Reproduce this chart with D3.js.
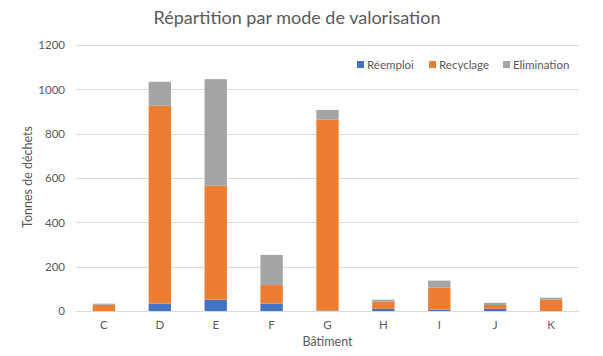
<!DOCTYPE html>
<html><head><meta charset="utf-8">
<script src="https://cdn.jsdelivr.net/npm/d3@7"></script>
<style>body{margin:0;background:#fff}svg{display:block}text{font-family:Lato,"Open Sans",sans-serif;fill:#595959}</style>
</head><body><svg id="c" width="603" height="356"></svg>
<script>
const categories = ["C","D","E","F","G","H","I","J","K"];
const reemploi   = [0, 33, 51, 33, 2, 10, 6, 10, 0];
const recyclage  = [28, 893, 514, 84, 861, 32, 99, 17, 51];
const elimination= [5, 108, 481, 136, 44, 9, 32, 10, 9];
const seriesNames = ["Réemploi","Recyclage","Elimination"];
const colors = ["#4472C4","#ED7D31","#A5A5A5"];
const yTicks = [0,200,400,600,800,1000,1200];

const svg = d3.select("#c");
const m = {l:76, r:24, t:45, b:45};
const W = 603, H = 356;
const x = d3.scaleBand().domain(categories).range([m.l, W - m.r]).paddingInner(0.6).paddingOuter(0.3);
const y = d3.scaleLinear().domain([0,1200]).range([311,45]);

const rows = categories.map((c,i)=>({cat:c, "Réemploi":reemploi[i], "Recyclage":recyclage[i], "Elimination":elimination[i]}));
const stacked = d3.stack().keys(seriesNames)(rows);

// gridlines
svg.append("g").selectAll("line").data(yTicks).join("line")
  .attr("x1", m.l).attr("x2", W - m.r)
  .attr("y1", d=>Math.round(y(d))+0.5).attr("y2", d=>Math.round(y(d))+0.5)
  .attr("stroke","#d9d9d9").attr("stroke-width",1);

// y tick labels
const ya = svg.append("g").attr("transform",`translate(${m.l},0)`).call(d3.axisLeft(y).tickValues(yTicks).tickSize(0).tickPadding(11).tickFormat(d3.format("d")));
ya.select(".domain").remove();
ya.selectAll("text").style("font-size","11.5px").style("fill","#595959").style("font-family","Lato");

// bars
svg.append("g").selectAll("g").data(stacked).join("g").attr("fill",(d,i)=>colors[i])
  .selectAll("rect").data(d=>d).join("rect")
  .attr("x", d=>x(d.data.cat)).attr("width", x.bandwidth())
  .attr("y", d=>y(d[1])).attr("height", d=>y(d[0]) - y(d[1]));

// x axis labels
const xa = svg.append("g").attr("transform","translate(0,311)").call(d3.axisBottom(x).tickSize(0).tickPadding(10));
xa.select(".domain").remove();
xa.selectAll("text").style("font-size","11.5px").style("fill","#595959").style("font-family","Lato");

// titles
svg.append("text").attr("x", 297).attr("y", 24).attr("text-anchor","middle")
  .style("font-size","18px").text("Répartition par mode de valorisation");
svg.append("text").attr("x", (m.l + W - m.r)/2).attr("y", 346).attr("text-anchor","middle")
  .style("font-size","12.5px").text("Bâtiment");
svg.append("text").attr("transform","translate(32,177) rotate(-90)").attr("text-anchor","middle")
  .style("font-size","12.5px").text("Tonnes de déchets");

// legend
const legX = [357, 429, 503];
const lg = svg.append("g").selectAll("g").data(seriesNames).join("g")
  .attr("transform",(d,i)=>`translate(${legX[i]},61)`);
lg.append("rect").attr("width",7).attr("height",7).attr("fill",(d,i)=>colors[i]);
lg.append("text").attr("x",10).attr("y",7.5).style("font-size","11.5px").text(d=>d);
</script></body></html>
